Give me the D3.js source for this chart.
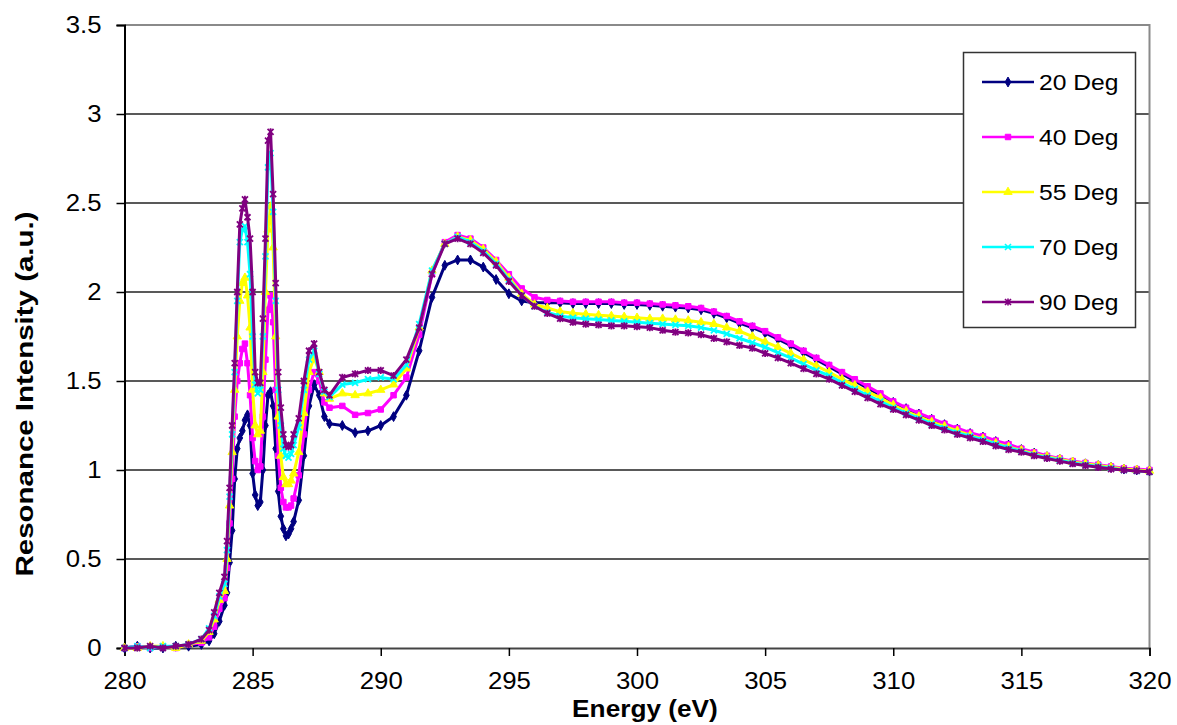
<!DOCTYPE html>
<html><head><meta charset="utf-8">
<script src="https://cdn.jsdelivr.net/npm/d3@7"></script>
<style>body{margin:0;background:#fff} text{font-family:"Liberation Sans",Arial,sans-serif}</style>
</head><body><svg id="c" width="1177" height="725"></svg>
<script>
// ---------------- DATA ----------------
const energy = [
  280, 280.5, 281, 281.5, 282, 282.5, 283, 283.3, 283.5, 283.7, 283.9,
  284, 284.1, 284.2, 284.3, 284.4, 284.5, 284.6, 284.7, 284.8, 284.9,
  285, 285.1, 285.2, 285.3, 285.4, 285.5, 285.6, 285.7, 285.8, 285.9,
  286, 286.1, 286.2, 286.3, 286.4, 286.5, 286.6,
  286.8, 287, 287.2, 287.4, 287.6, 287.8, 288,
  288.5, 289, 289.5, 290, 290.5, 291, 291.5, 292, 292.5, 293,
  293.5, 294, 294.5, 295, 295.5, 296, 296.5, 297, 297.5, 298,
  298.5, 299, 299.5, 300, 300.5, 301, 301.5, 302, 302.5, 303,
  303.5, 304, 304.5, 305, 305.5, 306, 306.5, 307, 307.5, 308,
  308.5, 309, 309.5, 310, 310.5, 311, 311.5, 312, 312.5, 313,
  313.5, 314, 314.5, 315, 315.5, 316, 316.5, 317, 317.5, 318,
  318.5, 319, 319.5, 320
];
const deg20 = [
  0, 0.01, 0, 0, 0.01, 0.01, 0.02, 0.04, 0.08, 0.15, 0.24,
  0.31, 0.48, 0.66, 0.95, 1.12, 1.18, 1.22, 1.28, 1.31, 1.25,
  0.98, 0.86, 0.80, 0.82, 1.0, 1.25, 1.42, 1.44, 1.36, 1.12,
  0.88, 0.74, 0.67, 0.63, 0.64, 0.67, 0.71,
  0.83, 1.08, 1.36, 1.48, 1.42, 1.3, 1.26,
  1.25, 1.21, 1.22, 1.25, 1.3, 1.42, 1.67, 1.97, 2.15, 2.18,
  2.18, 2.14, 2.07, 1.99, 1.95, 1.94, 1.94, 1.94, 1.935, 1.935,
  1.935, 1.935, 1.93, 1.93, 1.925, 1.92, 1.915, 1.91, 1.9, 1.88,
  1.855, 1.825, 1.8, 1.77, 1.735, 1.7, 1.66, 1.62, 1.58, 1.54,
  1.5, 1.46, 1.42, 1.38, 1.345, 1.315, 1.285, 1.255, 1.23, 1.205,
  1.185, 1.16, 1.14, 1.115, 1.095, 1.075, 1.06, 1.045, 1.035, 1.025,
  1.015, 1.005, 1.0, 0.995
];
const deg40 = [
  0, 0.01, 0, 0.01, 0, 0.02, 0.03, 0.06, 0.12, 0.22, 0.28,
  0.45, 0.7, 0.95, 1.3, 1.5, 1.6, 1.68, 1.71, 1.6, 1.42,
  1.18, 1.05, 1.0, 1.02, 1.3, 1.62, 1.9, 1.98, 1.83, 1.45,
  1.08, 0.9, 0.82, 0.79, 0.79, 0.8, 0.84,
  0.97, 1.2, 1.45, 1.55, 1.5, 1.38, 1.35,
  1.36, 1.31, 1.32, 1.34, 1.42, 1.52, 1.76, 2.1, 2.28, 2.32,
  2.3, 2.25, 2.18, 2.1, 2.02, 1.97, 1.955, 1.95, 1.945, 1.945,
  1.945, 1.945, 1.94, 1.94, 1.935, 1.93, 1.925, 1.92, 1.91, 1.89,
  1.865, 1.835, 1.81, 1.78, 1.745, 1.71, 1.67, 1.63, 1.59, 1.55,
  1.51, 1.47, 1.43, 1.385, 1.35, 1.32, 1.29, 1.26, 1.235, 1.21,
  1.19, 1.165, 1.145, 1.12, 1.1, 1.08, 1.065, 1.05, 1.04, 1.03,
  1.02, 1.01, 1.005, 1.0
];
const deg55 = [
  0, 0, 0.01, 0.01, 0, 0.02, 0.04, 0.09, 0.16, 0.27, 0.32,
  0.5, 0.8, 1.1, 1.45, 1.75, 1.95, 2.05, 2.08, 1.98, 1.8,
  1.45, 1.25, 1.2, 1.22, 1.55, 2.0, 2.35, 2.48, 2.25, 1.75,
  1.3, 1.08, 0.96, 0.92, 0.92, 0.94, 0.98,
  1.1, 1.32, 1.55, 1.63, 1.55, 1.43, 1.4,
  1.43, 1.42, 1.43, 1.45, 1.48, 1.57, 1.8, 2.12, 2.27, 2.31,
  2.29, 2.24, 2.17, 2.08, 1.99, 1.93, 1.91, 1.89, 1.88, 1.875,
  1.87, 1.865, 1.86, 1.855, 1.85, 1.85, 1.845, 1.84, 1.83, 1.82,
  1.8, 1.78, 1.75, 1.72, 1.69, 1.655, 1.62, 1.585, 1.55, 1.51,
  1.475, 1.44, 1.405, 1.365, 1.33, 1.3, 1.27, 1.245, 1.22, 1.195,
  1.175, 1.15, 1.13, 1.11, 1.09, 1.075, 1.06, 1.045, 1.035, 1.025,
  1.015, 1.005, 1.0, 0.995
];
const deg70 = [
  0, 0.01, 0, 0.01, 0.01, 0.02, 0.05, 0.11, 0.18, 0.29, 0.36,
  0.55, 0.85, 1.2, 1.55, 1.95, 2.28, 2.35, 2.37, 2.28, 2.1,
  1.75, 1.48, 1.43, 1.45, 1.75, 2.2, 2.7, 2.78, 2.45, 1.95,
  1.45, 1.25, 1.12, 1.08, 1.07, 1.09, 1.14,
  1.24, 1.45, 1.62, 1.67, 1.54, 1.44, 1.41,
  1.48, 1.49, 1.51, 1.52, 1.51, 1.59, 1.82, 2.12, 2.27, 2.31,
  2.28, 2.23, 2.16, 2.07, 1.98, 1.92, 1.885, 1.865, 1.855, 1.85,
  1.845, 1.84, 1.835, 1.83, 1.825, 1.82, 1.815, 1.81, 1.8, 1.785,
  1.765, 1.74, 1.715, 1.69, 1.66, 1.63, 1.595, 1.56, 1.53, 1.49,
  1.455, 1.42, 1.385, 1.35, 1.32, 1.29, 1.26, 1.235, 1.21, 1.19,
  1.17, 1.145, 1.125, 1.105, 1.085, 1.07, 1.055, 1.04, 1.03, 1.02,
  1.01, 1.0, 0.995, 0.99
];
const deg90 = [
  0, 0, 0.01, 0, 0.01, 0.02, 0.05, 0.1, 0.2, 0.31, 0.4,
  0.6, 0.9, 1.25, 1.6, 2.0, 2.38, 2.47, 2.52, 2.42, 2.3,
  2.0, 1.55, 1.49, 1.49, 1.85, 2.3, 2.85, 2.9, 2.55, 2.05,
  1.55, 1.35, 1.2, 1.14, 1.13, 1.14, 1.2,
  1.29, 1.5, 1.67, 1.71, 1.55, 1.45, 1.42,
  1.52, 1.54, 1.56, 1.56, 1.53, 1.62, 1.8, 2.1, 2.27, 2.3,
  2.27, 2.22, 2.15, 2.06, 1.98, 1.92, 1.88, 1.85, 1.83, 1.82,
  1.815, 1.81, 1.81, 1.805, 1.8, 1.785, 1.775, 1.77, 1.76, 1.74,
  1.72, 1.7, 1.685, 1.655, 1.63, 1.6, 1.57, 1.54, 1.51, 1.475,
  1.44, 1.405, 1.37, 1.34, 1.31, 1.28, 1.25, 1.225, 1.2, 1.18,
  1.16, 1.135, 1.115, 1.1, 1.08, 1.065, 1.05, 1.035, 1.025, 1.015,
  1.005, 1.0, 0.995, 0.99
];
const seriesNames = ["20 Deg", "40 Deg", "55 Deg", "70 Deg", "90 Deg"];
const seriesValues = [deg20, deg40, deg55, deg70, deg90];
const seriesColors = ["#000080", "#FF00FF", "#FFFF00", "#00FFFF", "#800080"];
const seriesMarkers = ["diamond", "square", "triangle", "x", "star"];
const xTicks = [280, 285, 290, 295, 300, 305, 310, 315, 320];
const yTicks = [0, 0.5, 1, 1.5, 2, 2.5, 3, 3.5];
const yTickLabels = ["0", "0.5", "1", "1.5", "2", "2.5", "3", "3.5"];
const xTitle = "Energy (eV)";
const yTitle = "Resonance Intensity (a.u.)";

// ---------------- CHART ----------------
const svg = d3.select("#c");
svg.append("rect").attr("width", 1177).attr("height", 725).attr("fill", "#fff");
const x = d3.scaleLinear().domain([280, 320]).range([124.5, 1149.5]);
const y = d3.scaleLinear().domain([0, 3.5]).range([648, 25]);

function stretch(sel, f) {
  sel.each(function () {
    const w = this.getComputedTextLength();
    this.setAttribute("textLength", w * f);
    this.setAttribute("lengthAdjust", "spacingAndGlyphs");
  });
}

// gridlines
svg.append("g").selectAll("line").data(yTicks.filter(v => v > 0 && v < 3.5)).join("line")
  .attr("x1", x(280)).attr("x2", x(320))
  .attr("y1", d => y(d)).attr("y2", d => y(d))
  .attr("stroke", "#222").attr("stroke-width", 1.4);
// top / right border
svg.append("path")
  .attr("d", `M${x(280)},${y(3.5)}H${x(320)}V${y(0)}`)
  .attr("fill", "none").attr("stroke", "#8a8a8a").attr("stroke-width", 2);

// axes
const yAxis = d3.axisLeft(y).tickValues(yTicks).tickFormat((d, i) => yTickLabels[i])
  .tickSize(8).tickPadding(15);
const gy = svg.append("g").attr("transform", `translate(${x(280)},0)`).call(yAxis);
gy.select(".domain").attr("stroke", "#000").attr("stroke-width", 2);
gy.selectAll(".tick line").attr("stroke", "#000").attr("stroke-width", 1.5);
gy.selectAll("text").attr("font-size", 23).attr("fill", "#000")
  .style("font-family", '"Liberation Sans",Arial,sans-serif');
stretch(gy.selectAll("text"), 1.12);

const xAxis = d3.axisBottom(x).tickValues(xTicks).tickFormat(d3.format("d"))
  .tickSize(8).tickPadding(17);
const gx = svg.append("g").attr("transform", `translate(0,${y(0)})`).call(xAxis);
gx.select(".domain").attr("stroke", "#444").attr("stroke-width", 2);
gx.selectAll(".tick line").attr("stroke", "#000").attr("stroke-width", 1.5);
gx.selectAll("text").attr("font-size", 23).attr("fill", "#000")
  .style("font-family", '"Liberation Sans",Arial,sans-serif');
stretch(gx.selectAll("text"), 1.12);

// titles
const xt = svg.append("text").attr("x", 645).attr("y", 717).attr("text-anchor", "middle")
  .attr("font-size", 23).attr("font-weight", "bold").text(xTitle);
stretch(xt, 1.14);
svg.append("text").attr("transform", "translate(33,394) rotate(-90)")
  .attr("text-anchor", "middle").attr("font-size", 23).attr("font-weight", "bold")
  .attr("textLength", 365).attr("lengthAdjust", "spacingAndGlyphs").text(yTitle);

// markers
function markerPath(kind) {
  if (kind === "diamond") return d3.symbol(d3.symbolDiamond, 28)();
  if (kind === "square") return d3.symbol(d3.symbolSquare, 30)();
  if (kind === "triangle") return d3.symbol(d3.symbolTriangle, 30)();
  if (kind === "x") return "M-3,-3L3,3M-3,3L3,-3";
  return "M-3,-3L3,3M-3,3L3,-3M0,-3.6L0,3.6";
}

const line = d3.line().x(d => x(d[0])).y(d => y(d[1]));
seriesValues.forEach((vals, i) => {
  const pts = energy.map((e, j) => [e, vals[j]]);
  const g = svg.append("g");
  g.append("path").datum(pts).attr("d", line)
    .attr("fill", "none").attr("stroke", seriesColors[i]).attr("stroke-width", 3)
    .attr("stroke-linejoin", "round");
  const filled = seriesMarkers[i] !== "x" && seriesMarkers[i] !== "star";
  g.selectAll("path.m").data(pts).join("path").attr("class", "m")
    .attr("transform", d => `translate(${x(d[0])},${y(d[1])})`)
    .attr("d", markerPath(seriesMarkers[i]))
    .attr("fill", filled ? seriesColors[i] : "none")
    .attr("stroke", seriesColors[i]).attr("stroke-width", filled ? 1 : 1.8);
});

// legend
const lg = svg.append("g");
lg.append("rect").attr("x", 963.5).attr("y", 52.5).attr("width", 172).attr("height", 275)
  .attr("fill", "#fff").attr("stroke", "#333").attr("stroke-width", 1.5);
seriesNames.forEach((name, i) => {
  const yy = 82 + i * 55;
  lg.append("line").attr("x1", 982).attr("x2", 1034).attr("y1", yy).attr("y2", yy)
    .attr("stroke", seriesColors[i]).attr("stroke-width", 2.5);
  const filled = seriesMarkers[i] !== "x" && seriesMarkers[i] !== "star";
  lg.append("path").attr("transform", `translate(1008,${yy})`)
    .attr("d", markerPath(seriesMarkers[i]))
    .attr("fill", filled ? seriesColors[i] : "none")
    .attr("stroke", seriesColors[i]).attr("stroke-width", filled ? 1 : 1.6);
  const t = lg.append("text").attr("x", 1039).attr("y", yy).attr("dy", "0.35em")
    .attr("font-size", 22).attr("fill", "#000").text(name);
  stretch(t, 1.12);
});
</script></body></html>
